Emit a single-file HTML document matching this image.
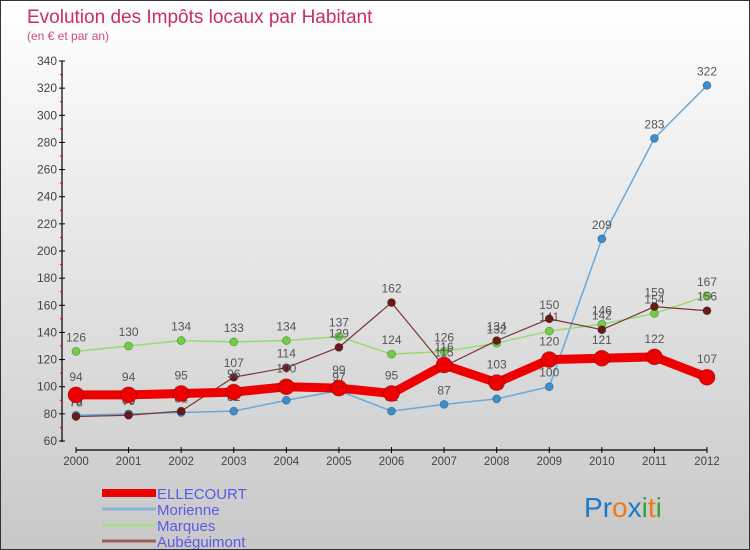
<!DOCTYPE html>
<html><head><meta charset="utf-8"><style>
body{margin:0;}
#wrap{width:748px;height:548px;border:1px solid #333;background:linear-gradient(#fff,#c8c8c8);position:relative;overflow:hidden;font-family:"Liberation Sans",sans-serif;}
svg{position:absolute;left:0;top:0;}
</style></head><body>
<div id="wrap">
<svg id="chart" width="750" height="550">
<text x="26" y="22" font-size="19" fill="#c8305a">Evolution des Impôts locaux par Habitant</text>
<text x="26" y="39" font-size="12" fill="#c8507a">(en € et par an)</text>
</svg>
</div>
<script>
const years=["2000","2001","2002","2003","2004","2005","2006","2007","2008","2009","2010","2011","2012"];
const ellecourt=[94,94,95,96,100,99,95,116,103,120,121,122,107];
const morienne=[79,80,81,82,90,97,82,87,91,100,209,283,322];
const marques=[126,130,134,133,134,137,124,126,132,141,146,154,167];
const aubeguimont=[78,79,82,107,114,129,162,115,134,150,142,159,156];
const yTicks=[60,80,100,120,140,160,180,200,220,240,260,280,300,320,340];
const NS="http://www.w3.org/2000/svg";
const svg=document.getElementById('chart');
const X=i=>75+i*(706-75)/12;
const Y=v=>440-(v-60)*380/280;
function mk(t,a,p){const e=document.createElementNS(NS,t);for(const k in a)e.setAttribute(k,a[k]);(p||svg).appendChild(e);return e;}
// y axis
let ax=mk('line',{x1:61,y1:60,x2:61,y2:441,stroke:'#000','stroke-width':1.2});


yTicks.forEach(v=>{
 mk('line',{x1:58,x2:64,y1:Y(v),y2:Y(v),stroke:'#000'});
 if(v<340)mk('line',{x1:59,x2:62,y1:Y(v+10),y2:Y(v+10),stroke:'#e00'});
 const t=mk('text',{x:56,y:Y(v)+4,'text-anchor':'end','font-size':12,fill:'#444'});t.textContent=v;
 
 
});
let xa=mk('line',{x1:75,y1:449,x2:706,y2:449,stroke:'#000','stroke-width':1.2});


years.forEach((y,i)=>{
 mk('line',{x1:X(i),x2:X(i),y1:446,y2:452,stroke:'#000'});
 const t=mk('text',{x:X(i),y:464,'text-anchor':'middle','font-size':11.5,fill:'#444'});t.textContent=y;
 
 
});
function series(data,color,w,r,name,fill){
 const g=mk('g',{});
 
 
 mk('polyline',{points:data.map((v,i)=>X(i)+','+Y(v)).join(' '),fill:'none',stroke:color,'stroke-width':w,'stroke-linejoin':'round'},g);
 data.forEach((v,i)=>{
  const c=mk('circle',{cx:X(i),cy:Y(v),r:r,fill:fill,stroke:'rgba(0,0,0,0.3)','stroke-width':0.8},g);
  
  
  const t=mk('text',{x:X(i),y:Y(v)-r-6,'text-anchor':'middle','font-size':12,fill:'#555'},g);t.textContent=v;
  
  
 });
}
series(morienne,'#6aa8d8',1.5,4,'morienne','#3a8ed0');
series(marques,'#98dc70',1.5,4,'marques','#70d040');
series(aubeguimont,'#7a3434',1.2,4,'aubeguimont','#6a1818');
series(ellecourt,'#ee0000',9,8,'ellecourt','#ee0000');
// legend
const leg=[['ELLECOURT','#ee0000',8],['Morienne','#88b4d4',3],['Marques','#a8dc88',3],['Aubéguimont','#9a6060',3]];
leg.forEach((l,i)=>{
 const y=492+i*16;
 const g=mk('g',{});
 
 
 mk('line',{x1:101,x2:155,y1:y,y2:y,stroke:l[1],'stroke-width':l[2]},g);
 const t=mk('text',{x:156,y:y+6,'font-size':15,fill:'#5a5ae8'},g);t.textContent=l[0];
});
// logo
const logo=mk('text',{x:583,y:516,'font-size':28,'font-family':'"Liberation Sans",sans-serif'});


[['P','#1a7ac8'],['r','#1a7ac8'],['o','#f07818'],['x','#1a7ac8'],['i','#38a038'],['t','#f07818'],['i','#38a038']].forEach(c=>{const s=mk('tspan',{fill:c[1]},logo);s.textContent=c[0];});
</script>
</body></html>
